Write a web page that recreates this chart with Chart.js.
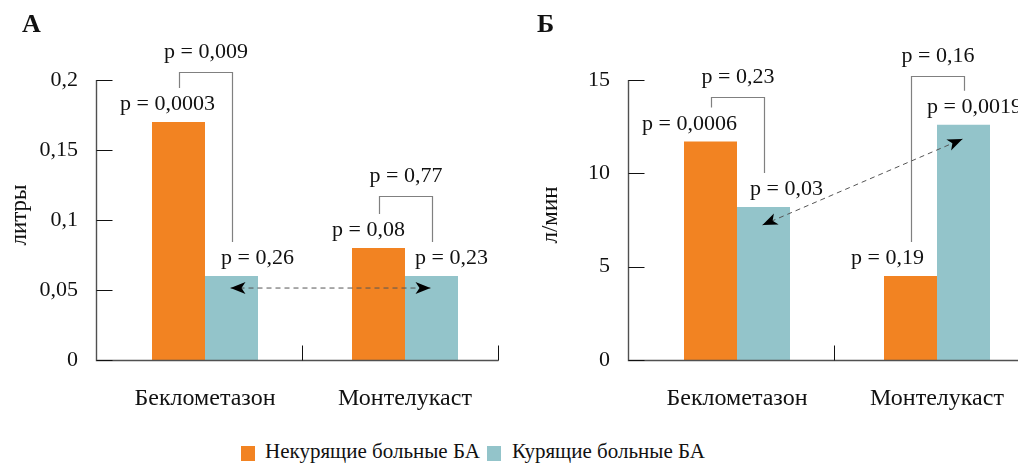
<!DOCTYPE html>
<html lang="ru">
<head>
<meta charset="utf-8">
<script src="https://cdn.jsdelivr.net/npm/chart.js@4.4.0/dist/chart.umd.min.js"></script>
<style>
  html, body { margin: 0; padding: 0; background: #fff; width: 1018px; height: 465px; overflow: hidden; }
  #chartA { position: absolute; left: 0; top: 0; }
  #chartB { position: absolute; left: 520px; top: 0; }
  .box { position: absolute; top: 446px; width: 14px; height: 15px; }
  .lbl { position: absolute; top: 441px; font: 21px "Liberation Serif", serif; line-height: 21px; color: #111; white-space: nowrap; }
</style>
</head>
<body>
<canvas id="chartA" width="510" height="430"></canvas>
<canvas id="chartB" width="540" height="430"></canvas>
<div class="box" style="left:241px;background:#f28322"></div>
<div class="lbl" id="leg0" style="left:265px"></div>
<div class="box" style="left:487px;background:#93c4ca"></div>
<div class="lbl" id="leg1" style="left:512px"></div>
<script>
// данные
const categories = ['Беклометазон', 'Монтелукаст'];
const seriesNames = ['Некурящие больные БА', 'Курящие больные БА'];
const litresNonSmokers = [0.17, 0.08];
const litresSmokers = [0.06, 0.06];
const flowNonSmokers = [11.7, 4.5];
const flowSmokers = [8.2, 12.6];
const ticksA = ['0', '0,05', '0,1', '0,15', '0,2'];
const ticksB = ['0', '5', '10', '15'];
// p над столбцами: [серия][категория]
const pBarsA = [['p = 0,0003', 'p = 0,08'], ['p = 0,26', 'p = 0,23']];
const pPairsA = ['p = 0,009', 'p = 0,77'];
const pBarsB = [['p = 0,0006', 'p = 0,19'], ['p = 0,03', 'p = 0,0019']];
const pPairsB = ['p = 0,23', 'p = 0,16'];

const colors = ['#f28322', '#93c4ca'];
const FONT = '"Liberation Serif", serif';
const INSET = 9;      // ось Y левее первой категории
const AXIS_LEN = 402;

document.getElementById('leg0').textContent = seriesNames[0];
document.getElementById('leg1').textContent = seriesNames[1];

function arrowHead(ctx, tx, ty, fx, fy) {
  const a = Math.atan2(ty - fy, tx - fx);
  const len = 15, half = 6;
  const bx = tx - len * Math.cos(a), by = ty - len * Math.sin(a);
  ctx.beginPath();
  ctx.moveTo(tx, ty);
  ctx.lineTo(bx + half * Math.sin(a), by - half * Math.cos(a));
  ctx.lineTo(tx - 11 * Math.cos(a), ty - 11 * Math.sin(a));
  ctx.lineTo(bx - half * Math.sin(a), by + half * Math.cos(a));
  ctx.closePath();
  ctx.fill();
}

function notes(opt) {
  return {
    id: 'notes',
    afterDraw(chart) {
      const ctx = chart.ctx, area = chart.chartArea, ys = chart.scales.y;
      const x0 = Math.round(area.left - INSET) + 0.5;
      const bottom = Math.round(area.bottom) + 0.5;
      ctx.save();
      // оси
      ctx.strokeStyle = '#505050';
      ctx.lineWidth = 1.4;
      ctx.beginPath();
      ctx.moveTo(x0, area.top);
      ctx.lineTo(x0, bottom);
      ctx.lineTo(x0 + AXIS_LEN, bottom);
      ctx.stroke();
      ctx.strokeStyle = '#111';
      ctx.lineWidth = 1;
      ctx.beginPath();
      ys.ticks.forEach(t => {
        const y = Math.round(ys.getPixelForValue(t.value)) + 0.5;
        ctx.moveTo(x0, y); ctx.lineTo(x0 + 16, y);
      });
      const mid = Math.round((chart.scales.x.getPixelForValue(0) + chart.scales.x.getPixelForValue(1)) / 2) - 2.5;
      ctx.moveTo(mid, bottom); ctx.lineTo(mid, bottom - 15);
      ctx.moveTo(x0 + AXIS_LEN, bottom); ctx.lineTo(x0 + AXIS_LEN, bottom - 15);
      ctx.stroke();

      // заголовок панели и подпись оси
      ctx.fillStyle = '#111';
      ctx.font = 'bold 26px ' + FONT;
      ctx.textAlign = 'left';
      ctx.textBaseline = 'alphabetic';
      ctx.fillText(opt.heading, opt.headingX, 32);
      ctx.font = '23px ' + FONT;
      ctx.save();
      ctx.translate(opt.titleX, (area.top + area.bottom) / 2 - 5);
      ctx.rotate(-Math.PI / 2);
      ctx.textAlign = 'center';
      ctx.fillText(opt.yTitle, 0, 0);
      ctx.restore();

      // p над столбцами
      ctx.font = '22px ' + FONT;
      ctx.textAlign = 'center';
      const base = [[], []];
      [0, 1].forEach(d => {
        chart.getDatasetMeta(d).data.forEach((bar, i) => {
          const yb = bar.y - 12;
          base[d][i] = { x: bar.x, y: yb };
          ctx.fillText(opt.pBars[d][i], bar.x + opt.dx[d][i], yb);
        });
      });

      // скобки сравнения
      opt.pPairs.forEach((txt, i) => {
        const top = Math.round(ys.getPixelForValue(opt.bracketTop[i])) + 0.5;
        const xl = Math.round(base[0][i].x) + 0.5, xr = Math.round(base[1][i].x) + 0.5;
        ctx.strokeStyle = '#808080';
        ctx.lineWidth = 1.2;
        ctx.beginPath();
        ctx.moveTo(xl, base[0][i].y - 22);
        ctx.lineTo(xl, top);
        ctx.lineTo(xr, top);
        ctx.lineTo(xr, base[1][i].y - 22);
        ctx.stroke();
        ctx.fillText(txt, (xl + xr) / 2, top - 15);
      });

      // пунктирная стрелка между курящими
      const m = chart.getDatasetMeta(1).data;
      const ax = m[0].x - 1, ay = ys.getPixelForValue(opt.arrow[0]);
      const bx = m[1].x - 1, by = ys.getPixelForValue(opt.arrow[1]);
      ctx.strokeStyle = '#555';
      ctx.lineWidth = 1;
      ctx.setLineDash([5, 4]);
      ctx.beginPath();
      ctx.moveTo(ax, ay);
      ctx.lineTo(bx, by);
      ctx.stroke();
      ctx.setLineDash([]);
      ctx.fillStyle = '#000';
      arrowHead(ctx, ax, ay, bx, by);
      arrowHead(ctx, bx, by, ax, ay);
      ctx.restore();
    }
  };
}

function makeChart(id, values, max, step, tickLabels, yWidth, padRight, opt) {
  return new Chart(document.getElementById(id), {
    type: 'bar',
    data: {
      labels: categories,
      datasets: values.map((v, d) => ({
        label: seriesNames[d],
        data: v,
        backgroundColor: colors[d],
        borderWidth: 0,
        categoryPercentage: 0.53,
        barPercentage: 1
      }))
    },
    options: {
      responsive: false,
      animation: false,
      layout: { padding: { top: 80, right: padRight, bottom: 0, left: 0 } },
      plugins: { legend: { display: false }, tooltip: { enabled: false } },
      scales: {
        x: {
          grid: { display: false, drawTicks: false },
          border: { display: false },
          ticks: { color: '#111', font: { family: FONT, size: 24 }, padding: 24, maxRotation: 0, autoSkip: false },
          afterFit: s => { s.height = 70; }
        },
        y: {
          min: 0, max: max,
          grid: { display: false, drawTicks: false },
          border: { display: false },
          ticks: {
            stepSize: step,
            color: '#111',
            font: { family: FONT, size: 22 },
            padding: 27,
            callback: (v, i) => tickLabels[i]
          },
          afterFit: s => { s.width = yWidth; }
        }
      }
    },
    plugins: [notes(opt)]
  });
}

makeChart('chartA', [litresNonSmokers, litresSmokers], 0.2, 0.05, ticksA, 105, 5, {
  heading: 'А', headingX: 22, yTitle: 'литры', titleX: 26,
  pBars: pBarsA, pPairs: pPairsA,
  dx: [[-11, -10], [26, 20]],
  bracketTop: [0.2057, 0.117],
  arrow: [0.0514, 0.0514]
});

makeChart('chartB', [flowNonSmokers, flowSmokers], 15, 5, ticksB, 117, 23, {
  heading: 'Б', headingX: 17, yTitle: 'л/мин', titleX: 37,
  pBars: pBarsB, pPairs: pPairsB,
  dx: [[-21, -23], [23, 11]],
  bracketTop: [14.09, 15.21],
  arrow: [7.23, 11.84]
});
</script>
</body>
</html>
